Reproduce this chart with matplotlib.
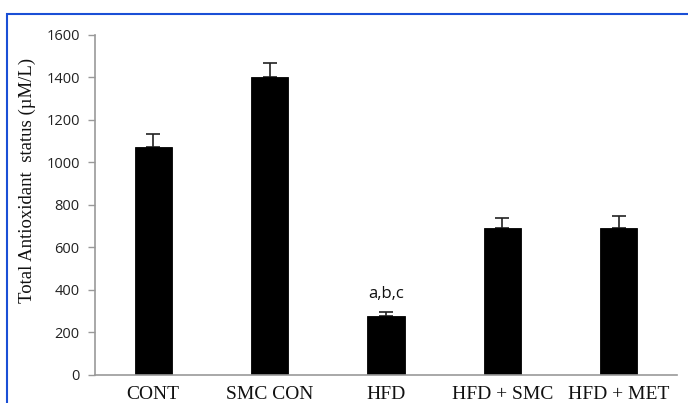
import matplotlib
matplotlib.use("Agg")
import matplotlib.pyplot as plt
from matplotlib.patches import Rectangle

# data
groups = ["CONT", "SMC CON", "HFD", "HFD + SMC", "HFD + MET"]
tas_mean = [1073, 1403, 276, 690, 690]
tas_err = [62, 65, 18, 47, 55]
sig_labels = ["", "", "a,b,c", "", ""]
y_ticks = [0, 200, 400, 600, 800, 1000, 1200, 1400, 1600]

fig = plt.figure(figsize=(6.88, 4.03), dpi=100)
ax = fig.add_axes([95 / 688, 1 - 374.5 / 403, (677 - 95) / 688, (374.5 - 35) / 403])

x = list(range(len(groups)))
# error bars sit behind the bars so only the upper half shows
ax.errorbar(x, tas_mean, yerr=[[0] * len(tas_err), tas_err], fmt="none",
            ecolor="#222222", elinewidth=1.2, capsize=5, capthick=1.2, zorder=1)
ax.bar(x, tas_mean, width=0.32, color="black", edgecolor="black", linewidth=0.6, zorder=2)

for xi, m, e, s in zip(x, tas_mean, tas_err, sig_labels):
    if s:
        ax.text(xi, m + e + 50, s, ha="center", va="bottom", fontsize=12,
                family="Open Sans", color="#111111")

ax.set_xlim(-0.5, 4.5)
ax.set_ylim(0, 1600)
ax.set_yticks(y_ticks)
ax.set_yticklabels([str(t) for t in y_ticks], family="Open Sans", fontsize=10.5, color="#222222")
ax.set_xticks(x)
ax.set_xticklabels(groups, family="Liberation Serif", fontsize=14, color="#111111")
ax.tick_params(axis="x", length=0, pad=8)
ax.tick_params(axis="y", length=5, width=1, color="#999999", pad=6)

for side in ["top", "right"]:
    ax.spines[side].set_visible(False)
for side in ["left", "bottom"]:
    ax.spines[side].set_color("#999999")
    ax.spines[side].set_linewidth(1.2)

fig.text(27 / 688, 1 - 180 / 403, "Total Antioxidant  status (\u00b5M/L)", rotation=90,
         ha="center", va="center", family="Liberation Serif", fontsize=13.5, color="#111111")

# blue frame around the panel
frame = Rectangle((6.5 / 688, -0.2), 1.2, 1.2 - 14 / 403, transform=fig.transFigure,
                  fill=False, edgecolor="#1a4fd6", linewidth=1.5, clip_on=False)
fig.patches.append(frame)

fig.savefig("out.png", dpi=100)
